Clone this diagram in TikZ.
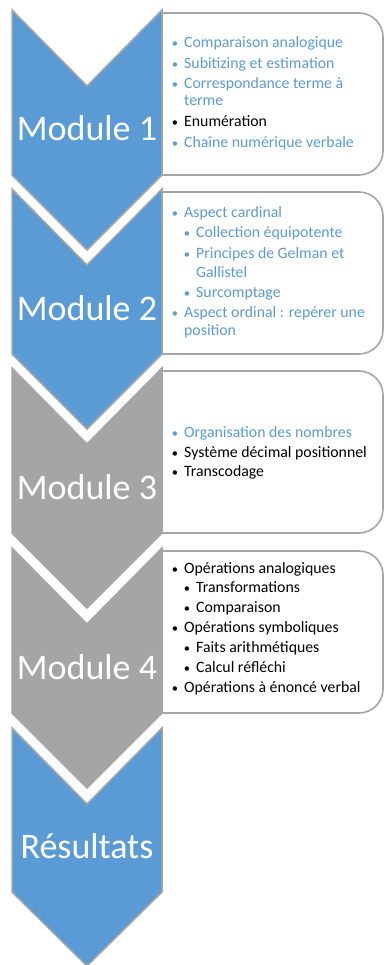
\documentclass[tikz,border=0pt]{standalone}
\usepackage{fontspec}
\setmainfont{Carlito}
\definecolor{cblue}{HTML}{5B9BD5}
\definecolor{cgray}{HTML}{A5A5A5}
\definecolor{cline}{HTML}{A5A5A5}
\newcommand\li[5]{%
  \node[bul,text=#4] (#1b) at (#2,#3) {•};
  \node[txt,text=#4] (#1) at (#2+9,#3) {#5};}
\begin{document}
\begin{tikzpicture}[x=1pt,y=-1pt,
  chev/.style={draw=cline,line width=1.5pt,line join=miter},
  infobox/.style={draw=cline,line width=1.6pt,fill=white},
  modlbl/.style={anchor=base,inner sep=0,text=white,font=\fontsize{36}{40}\selectfont},
  txt/.style={anchor=base west,inner sep=0,font=\fontsize{15.8}{19}\selectfont},
  bul/.style={anchor=base,inner sep=0,font=\fontsize{12.5}{15}\selectfont}]
\useasboundingbox (0,0) rectangle (384,965);
% text boxes
\draw[infobox] (161,13) -- (359,13) arc[start angle=-90,end angle=0,radius=24] -- (383,151) arc[start angle=0,end angle=90,radius=24] -- (161,175);
\draw[infobox] (161,192) -- (359,192) arc[start angle=-90,end angle=0,radius=24] -- (383,330) arc[start angle=0,end angle=90,radius=24] -- (161,354);
\draw[infobox] (161,371) -- (359,371) arc[start angle=-90,end angle=0,radius=24] -- (383,509) arc[start angle=0,end angle=90,radius=24] -- (161,533);
\draw[infobox] (161,551) -- (359,551) arc[start angle=-90,end angle=0,radius=24] -- (383,689) arc[start angle=0,end angle=90,radius=24] -- (161,713);
% chevrons
\draw[chev,fill=cblue] (12,10) -- (87,86) -- (162,10) -- (162,175) -- (87,250) -- (12,175) -- cycle;
\draw[chev,fill=cblue] (12,189) -- (87,265) -- (162,189) -- (162,354) -- (87,429) -- (12,354) -- cycle;
\draw[chev,fill=cgray] (12,368) -- (87,444) -- (162,368) -- (162,533) -- (87,608) -- (12,533) -- cycle;
\draw[chev,fill=cgray] (12,548) -- (87,624) -- (162,548) -- (162,713) -- (87,788) -- (12,713) -- cycle;
\draw[chev,fill=cblue] (12,728) -- (87,804) -- (162,728) -- (162,892) -- (87,966) -- (12,892) -- cycle;
% module labels
\node[modlbl] (mod1) at (87,141) {Module 1};
\node[modlbl] (mod2) at (87,320) {Module 2};
\node[modlbl] (mod3) at (87,499) {Module 3};
\node[modlbl] (mod4) at (87,679) {Module 4};
\node[modlbl] (res) at (87,858) {Résultats};
% module 1
\li{a1}{175}{48}{cblue}{Comparaison analogique}
\li{a2}{175}{69}{cblue}{Subitizing et estimation}
\li{a3}{175}{89}{cblue}{Correspondance terme à}
\node[txt,text=cblue] (a3c) at (184,106) {terme};
\li{a4}{175}{127}{black}{Enumération}
\li{a5}{175}{148}{cblue}{Chaîne numérique verbale}
% module 2
\li{b1}{175}{218}{cblue}{Aspect cardinal}
\li{b2}{187}{238}{cblue}{Collection équipotente}
\li{b3}{187}{259}{cblue}{Principes de Gelman et}
\node[txt,text=cblue] (b3c) at (196,277) {Gallistel};
\li{b4}{187}{297}{cblue}{Surcomptage}
\li{b5}{175}{317}{cblue}{Aspect ordinal : repérer une}
\node[txt,text=cblue] (b5c) at (184,335) {position};
% module 3
\li{c1}{175}{437}{cblue}{Organisation des nombres}
\li{c2}{175}{457}{black}{Système décimal positionnel}
\li{c3}{175}{476}{black}{Transcodage}
% module 4
\li{d1}{175}{573}{black}{Opérations analogiques}
\li{d2}{187}{592}{black}{Transformations}
\li{d3}{187}{612}{black}{Comparaison}
\li{d4}{175}{632}{black}{Opérations symboliques}
\li{d5}{187}{652}{black}{Faits arithmétiques}
\li{d6}{187}{672}{black}{Calcul réfléchi}
\li{d7}{175}{692}{black}{Opérations à énoncé verbal}
\end{tikzpicture}
\end{document}
